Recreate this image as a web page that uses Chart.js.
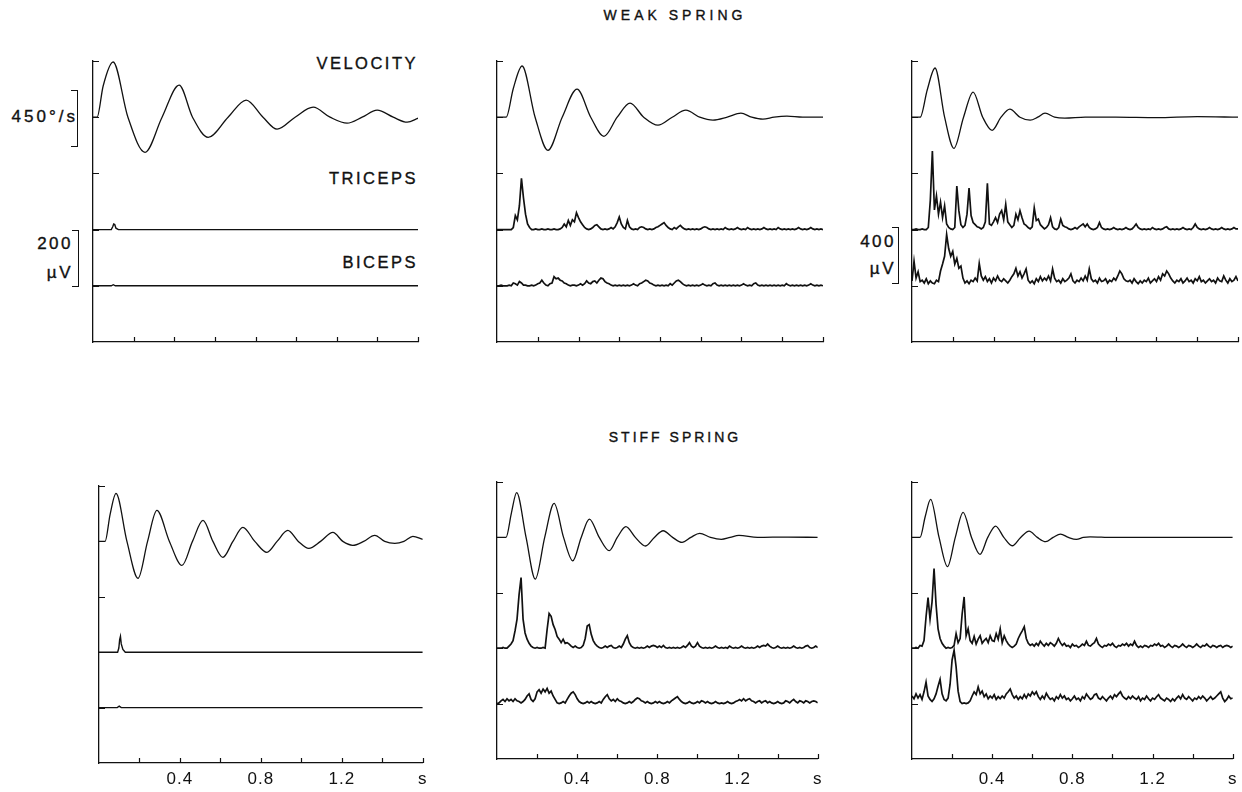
<!DOCTYPE html>
<html>
<head>
<meta charset="utf-8">
<script src="https://cdn.jsdelivr.net/npm/chart.js@4.4.1/dist/chart.umd.min.js"></script>
<style>
  body { margin: 0; background: #fff; width: 1242px; height: 792px; position: relative; overflow: hidden;
         font-family: "Liberation Sans", Arial, Helvetica, sans-serif; color: #111; }
  canvas { position: absolute; }
  .t { position: absolute; white-space: nowrap; line-height: 1; -webkit-text-stroke: 0.35px #111; }
  .c { transform: translateX(-50%); }
  .br { position: absolute; box-sizing: border-box; border: 1.5px solid #111; border-left: none; width: 7px; height: 57px; }
</style>
</head>
<body>
<div class="t c" style="left:675px;top:8px;font-size:14px;letter-spacing:4px">WEAK SPRING</div>
<div class="t c" style="left:675px;top:430px;font-size:14px;letter-spacing:3px">STIFF SPRING</div>

<div class="t" style="right:824px;top:55px;font-size:16.5px;letter-spacing:2.5px">VELOCITY</div>
<div class="t" style="right:824px;top:170px;font-size:16.5px;letter-spacing:2.5px">TRICEPS</div>
<div class="t" style="right:824px;top:254px;font-size:16.5px;letter-spacing:2.5px">BICEPS</div>

<div class="t" style="right:1164px;top:108px;font-size:17px;letter-spacing:3px">450°/s</div>
<div class="br" style="left:71px;top:90px"></div>
<div class="t" style="right:1169px;top:235px;font-size:17px;letter-spacing:2.5px">200</div>
<div class="t" style="right:1169px;top:264px;font-size:17px;letter-spacing:2.5px">µV</div>
<div class="br" style="left:72px;top:230px"></div>
<div class="t" style="right:346px;top:233px;font-size:17px;letter-spacing:2.5px">400</div>
<div class="t" style="right:346px;top:260px;font-size:17px;letter-spacing:2.5px">µV</div>
<div class="br" style="left:892px;top:227px"></div>

<script>
// ---- data: velocity (deg/s) at key points, EMG (µV) every 10 ms ----
const EMG_STEP = 0.01;
const emgTimes = Array.from({length: 161}, (_, i) => +(i * EMG_STEP).toFixed(2));

const xTickLabelAt = [0.4, 0.8, 1.2, 1.6];
const xTickLabels = ['0.4', '0.8', '1.2', 's'];

// weak spring, column 1
const velWeak1T = [0, 0.02, 0.05, 0.099, 0.172, 0.256, 0.34, 0.424, 0.49, 0.567, 0.665, 0.754, 0.837, 0.906, 0.995, 1.084, 1.167, 1.251, 1.325, 1.399, 1.478, 1.547, 1.6];
const velWeak1V = [0, 0, 250, 442, 0, -281, 0, 257, 0, -161, 0, 137, 0, -96, 0, 80, 0, -48, 0, 56, 0, -40, -8];
const triWeak1T = [0, 0.09, 0.097, 0.102, 0.107, 0.113, 0.125, 1.6];
const triWeak1V = [0, 0, 10, 20, 18, 5, 0, 0];
const bicWeak1T = [0, 0.09, 0.1, 0.11, 1.6];
const bicWeak1V = [0, 0, 4, 0, 0];

// weak spring, column 2
const velWeak2T = [0, 0.045, 0.08, 0.123, 0.187, 0.25, 0.32, 0.393, 0.46, 0.525, 0.59, 0.653, 0.72, 0.79, 0.86, 0.927, 0.995, 1.06, 1.13, 1.197, 1.25, 1.305, 1.36, 1.423, 1.5, 1.6];
const velWeak2V = [0, 0, 230, 410, 0, -265, 0, 225, 0, -153, 0, 113, 0, -64, 0, 56, 0, -24, 0, 32, 0, -16, 0, 8, 0, 0];
const triWeak2 = [
  0,0,0,0,0,0,0,0,15,100,
  70,170,365,225,110,40,15,0,0,5,
  0,0,5,0,0,5,0,0,5,0,
  0,5,15,40,20,65,30,70,55,120,
  85,55,35,15,5,0,5,15,30,35,
  20,5,0,5,0,5,15,5,20,50,
  90,40,15,5,65,20,5,0,5,0,
  15,20,15,5,0,5,0,5,15,20,
  30,40,50,30,15,5,0,15,5,20,
  30,15,5,0,5,0,5,0,5,0,
  5,15,20,15,5,0,5,0,5,0,
  5,0,15,5,0,5,0,5,15,5,
  0,5,0,15,5,0,5,0,5,0,
  5,15,5,0,5,0,5,0,15,5,
  0,5,0,5,0,5,0,5,15,5,
  0,5,0,5,15,5,0,5,0,5,
  0
];
const bicWeak2 = [
  0,0,5,0,0,0,5,0,20,15,
  5,30,20,5,5,0,0,5,0,5,
  15,20,40,20,5,0,15,20,65,50,
  55,40,35,20,15,5,0,5,5,0,
  5,15,5,15,35,20,15,30,35,20,
  40,55,50,30,20,15,5,0,5,0,
  5,0,5,0,5,0,5,15,5,0,
  15,20,30,40,35,20,15,5,0,5,
  0,5,0,5,0,15,5,20,35,40,
  30,15,5,0,5,0,5,0,5,0,
  5,15,5,0,5,0,15,20,5,0,
  5,0,5,0,5,0,5,0,5,0,
  5,15,5,0,5,0,15,20,5,0,
  5,0,5,0,5,0,5,0,5,0,
  5,0,15,5,0,5,0,5,0,5,
  0,5,0,5,15,5,0,5,0,5,
  0
];

// weak spring, column 3
const velWeak3T = [0, 0.04, 0.075, 0.113, 0.16, 0.206, 0.253, 0.30, 0.347, 0.393, 0.437, 0.48, 0.53, 0.58, 0.617, 0.653, 0.70, 0.75, 0.85, 1.0, 1.2, 1.4, 1.6];
const velWeak3V = [0, 0, 220, 394, 0, -249, 0, 201, 0, -105, 0, 64, 0, -24, 0, 32, 0, -8, 0, 0, -4, 4, 0];
const triWeak3 = [
  0,0,5,0,0,5,0,0,15,210,
  560,140,240,110,195,85,170,40,15,5,
  0,15,310,135,35,15,30,110,295,100,
  50,35,20,15,5,15,55,330,40,30,
  55,85,50,110,135,70,180,55,35,15,
  30,110,70,135,85,40,30,15,5,20,
  155,65,75,35,20,5,15,35,85,20,
  5,0,15,75,30,20,15,5,0,5,
  15,5,20,30,40,20,40,15,5,0,
  5,15,50,15,5,0,5,0,5,15,
  5,0,5,0,5,15,5,0,5,20,
  40,15,5,0,5,0,5,0,15,5,
  0,5,0,5,15,20,5,0,5,0,
  5,0,5,15,5,0,5,0,15,40,
  15,5,0,5,0,5,15,5,0,5,
  0,5,15,5,0,5,0,5,15,5,
  5
];
const bicWeak3 = [
  35,175,55,100,30,40,20,50,15,35,
  20,15,40,30,105,155,210,365,265,210,
  245,155,195,125,140,55,20,35,15,40,
  30,55,35,160,70,40,65,30,50,20,
  55,35,70,40,30,50,35,20,40,65,
  85,125,70,100,55,85,120,40,20,35,
  15,50,30,65,35,55,40,70,35,120,
  55,30,40,20,50,30,40,55,85,35,
  20,40,30,55,35,70,40,120,50,30,
  40,20,55,30,35,50,20,40,30,55,
  40,70,105,85,50,35,30,40,20,50,
  30,15,35,20,40,30,55,20,35,50,
  30,65,40,85,70,105,85,55,35,20,
  40,30,50,20,35,55,30,40,20,50,
  35,65,30,40,20,35,50,30,40,20,
  55,35,30,70,40,20,50,30,40,65,
  35
];

// stiff spring, column 1
const velStiff1T = [0, 0.03, 0.055, 0.084, 0.138, 0.193, 0.24, 0.286, 0.348, 0.41, 0.462, 0.514, 0.563, 0.612, 0.662, 0.711, 0.77, 0.83, 0.88, 0.933, 0.985, 1.037, 1.095, 1.156, 1.205, 1.254, 1.308, 1.363, 1.412, 1.462, 1.507, 1.551, 1.6];
const velStiff1V = [0, 0, 220, 390, 0, -300, 0, 252, 0, -195, 0, 170, 0, -130, 0, 114, 0, -89, 0, 89, 0, -57, 0, 73, 0, -32, 0, 49, 0, -16, 0, 41, 16];
const triStiff1T = [0, 0.092, 0.098, 0.102, 0.106, 0.11, 0.118, 0.13, 1.6];
const triStiff1V = [0, 0, 15, 45, 57, 30, 10, 0, 0];
const bicStiff1T = [0, 0.09, 0.1, 0.11, 1.6];
const bicStiff1V = [0, 0, 5, 0, 0];

// stiff spring, column 2
const velStiff2T = [0, 0.045, 0.072, 0.098, 0.145, 0.191, 0.238, 0.285, 0.332, 0.378, 0.42, 0.461, 0.51, 0.56, 0.60, 0.643, 0.69, 0.741, 0.785, 0.829, 0.876, 0.923, 0.967, 1.011, 1.065, 1.119, 1.163, 1.207, 1.3, 1.45, 1.6];
const velStiff2V = [0, 0, 200, 363, 0, -339, 0, 276, 0, -190, 0, 149, 0, -108, 0, 87, 0, -70, 0, 54, 0, -41, 0, 33, 0, -16, 0, 16, 0, 3, 0];
const triStiff2 = [
  0,0,0,5,0,0,15,30,55,125,
  210,385,510,210,110,65,35,15,5,0,
  5,0,0,5,0,135,250,230,170,135,
  85,65,40,65,35,40,30,15,5,15,
  5,0,5,20,70,160,170,100,55,30,
  15,5,0,5,15,5,15,20,5,0,
  5,15,5,30,65,90,40,15,5,0,
  5,0,5,0,5,15,5,15,20,15,
  5,15,5,20,5,0,5,0,5,0,
  5,0,5,15,5,20,40,15,5,15,
  40,15,5,0,5,0,5,0,5,15,
  5,0,5,0,5,0,15,5,0,5,
  0,5,15,5,0,5,0,5,0,5,
  15,5,15,20,15,30,15,5,0,5,
  15,5,0,5,0,5,0,5,15,5,
  0,5,0,5,15,20,5,0,5,15,
  5
];
const bicStiff2 = [
  0,5,20,30,15,35,20,30,15,35,
  20,15,5,15,30,55,70,30,15,35,
  85,100,75,105,85,110,75,90,55,30,
  5,0,5,15,5,30,55,75,85,65,
  35,15,5,0,5,15,5,15,5,0,
  5,15,5,30,50,65,35,20,30,15,
  35,20,15,5,0,5,15,5,15,30,
  40,35,20,15,5,15,5,0,5,15,
  5,15,5,0,5,15,5,20,30,40,
  50,30,15,5,0,5,15,5,0,5,
  15,5,20,15,5,15,5,0,5,15,
  5,0,5,0,5,15,5,0,5,15,
  20,30,20,35,20,30,35,20,15,5,
  15,20,5,15,20,5,15,5,0,5,
  15,5,0,5,20,15,5,20,30,15,
  5,20,15,5,20,15,5,15,20,15,
  5
];

// stiff spring, column 3
const velStiff3T = [0, 0.04, 0.066, 0.093, 0.135, 0.177, 0.216, 0.255, 0.297, 0.339, 0.378, 0.417, 0.458, 0.5, 0.542, 0.584, 0.625, 0.667, 0.704, 0.741, 0.78, 0.82, 0.855, 0.888, 1.0, 1.6];
const velStiff3V = [0, 0, 170, 309, 0, -238, 0, 203, 0, -138, 0, 92, 0, -68, 0, 51, 0, -35, 0, 27, 0, -16, 0, 5, 0, 0];
const triStiff3 = [
  0,0,5,0,20,15,55,225,365,210,
  335,575,315,140,70,35,15,0,5,0,
  5,20,105,40,70,245,370,90,140,55,
  35,85,30,65,90,35,55,70,40,90,
  55,50,105,65,140,40,90,55,30,15,
  5,15,30,70,100,125,155,70,35,20,
  30,15,35,20,50,30,15,35,20,40,
  30,15,35,70,40,20,35,15,20,5,
  30,15,20,5,15,30,20,50,20,15,
  30,40,70,30,15,5,20,15,30,20,
  35,15,5,20,15,30,20,35,15,30,
  20,50,20,5,15,5,20,15,5,20,
  15,30,20,35,15,20,5,15,30,15,
  5,20,15,5,15,30,15,5,20,15,
  5,15,30,15,5,20,15,30,15,5,
  20,15,5,15,20,5,15,20,15,5,
  15
];
const bicStiff3 = [
  55,35,70,40,65,30,85,155,55,30,
  15,35,70,125,175,70,30,20,40,140,
  315,385,265,90,15,0,5,0,5,20,
  55,85,65,120,70,90,50,70,35,55,
  40,65,30,50,35,55,40,70,85,105,
  65,40,55,30,50,35,65,40,70,55,
  85,65,85,50,30,55,35,75,50,30,
  40,20,50,35,65,40,55,30,40,20,
  35,55,30,40,20,50,35,70,50,30,
  40,65,70,40,30,50,35,20,40,55,
  35,65,50,70,85,55,40,30,50,35,
  55,40,30,50,20,40,30,55,35,20,
  40,30,50,65,40,30,20,40,30,15,
  35,20,40,55,35,65,40,30,50,35,
  20,40,30,50,35,55,40,20,35,50,
  30,40,55,70,85,40,15,30,55,35,
  40
];

// ---- drawing ----
const INK = '#111';
const FONT = '"Liberation Sans", Arial, Helvetica, sans-serif';
const VEL_GAIN = 450;          // deg/s per trace unit (calibration bar)
const VEL_BASE = 4, TRI_BASE = 2, BIC_BASE = 1;

function trace(times, vals, base, gain, smooth) {
  const dense = vals.length > 50;   // sampled EMG records look heavier in print
  return {
    data: vals.map((v, i) => ({x: times[i], y: base + v / gain})),
    cubicInterpolationMode: smooth ? 'monotone' : 'default',
    tension: 0,
    borderWidth: smooth ? 1.3 : (dense ? 1.7 : 1.4)
  };
}

// tick marks point into the plot, as in the original figure
const innerTicks = {
  id: 'innerTicks',
  beforeDraw(chart) { chart.ctx.letterSpacing = '1px'; },
  afterDraw(chart) {
    const {ctx, chartArea: a, scales: {x, y}} = chart;
    ctx.save();
    ctx.strokeStyle = INK;
    ctx.lineWidth = 1.2;
    ctx.beginPath();
    x.ticks.forEach(t => {
      if (t.value <= 0) return;
      const px = Math.round(x.getPixelForValue(t.value)) + 0.5;
      ctx.moveTo(px, a.bottom);
      ctx.lineTo(px, a.bottom - 5);
    });
    y.ticks.forEach(t => {
      if (t.value <= 0) return;
      const py = Math.round(y.getPixelForValue(t.value)) + 0.5;
      ctx.moveTo(a.left, py);
      ctx.lineTo(a.left + 6, py);
    });
    ctx.stroke();
    ctx.restore();
  }
};

const panels = [
  {left: 93,  top: 61,  w: 325, h: 281, labels: false, emgGain: 200,
   vel: [velWeak1T, velWeak1V], tri: [triWeak1T, triWeak1V], bic: [bicWeak1T, bicWeak1V]},
  {left: 497, top: 61,  w: 326, h: 281, labels: false, emgGain: 400,
   vel: [velWeak2T, velWeak2V], tri: [emgTimes, triWeak2], bic: [emgTimes, bicWeak2]},
  {left: 912, top: 61,  w: 326, h: 281, labels: false, emgGain: 400,
   vel: [velWeak3T, velWeak3V], tri: [emgTimes, triWeak3], bic: [emgTimes, bicWeak3]},
  {left: 99,  top: 486, w: 324, h: 277, labels: true, pad: 6, emgGain: 200,
   vel: [velStiff1T, velStiff1V], tri: [triStiff1T, triStiff1V], bic: [bicStiff1T, bicStiff1V]},
  {left: 497, top: 482, w: 325, h: 277, labels: true, pad: 10, emgGain: 400,
   vel: [velStiff2T, velStiff2V], tri: [emgTimes, triStiff2], bic: [emgTimes, bicStiff2]},
  {left: 912, top: 482, w: 325, h: 277, labels: true, pad: 10, emgGain: 400,
   vel: [velStiff3T, velStiff3V], tri: [emgTimes, triStiff3], bic: [emgTimes, bicStiff3]}
];

panels.forEach(p => {
  const bottomSpace = p.labels ? 34 : 6;
  const cv = document.createElement('canvas');
  cv.width = p.w + 20;
  cv.height = p.h + 10 + bottomSpace;
  cv.style.left = (p.left - 10) + 'px';
  cv.style.top = (p.top - 10) + 'px';
  document.body.appendChild(cv);

  new Chart(cv, {
    type: 'line',
    data: {
      datasets: [
        trace(p.vel[0], p.vel[1], VEL_BASE, VEL_GAIN, true),
        trace(p.tri[0], p.tri[1], TRI_BASE, p.emgGain, false),
        trace(p.bic[0], p.bic[1], BIC_BASE, p.emgGain, false)
      ]
    },
    options: {
      responsive: false,
      animation: false,
      events: [],
      layout: {padding: {top: 10, right: 10, left: 0, bottom: 0}},
      elements: {
        point: {radius: 0},
        line: {borderColor: INK, fill: false}
      },
      plugins: {legend: {display: false}, tooltip: {enabled: false}},
      scales: {
        x: {
          type: 'linear', min: 0, max: 1.6,
          grid: {display: false, drawTicks: false},
          border: {color: INK, width: 1.3},
          ticks: {
            display: p.labels, stepSize: 0.2, autoSkip: false, maxRotation: 0,
            padding: p.pad || 0, color: INK, font: {family: FONT, size: 17},
            callback: v => {
              const k = xTickLabelAt.findIndex(a => Math.abs(a - v) < 1e-6);
              return k < 0 ? '' : xTickLabels[k];
            }
          },
          afterFit: s => { s.height = bottomSpace; }
        },
        y: {
          type: 'linear', min: 0, max: 5,
          grid: {display: false, drawTicks: false},
          border: {color: INK, width: 1.3},
          ticks: {display: false, stepSize: 1},
          afterFit: s => { s.width = 10; }
        }
      }
    },
    plugins: [innerTicks]
  });
});
</script>
</body>
</html>
